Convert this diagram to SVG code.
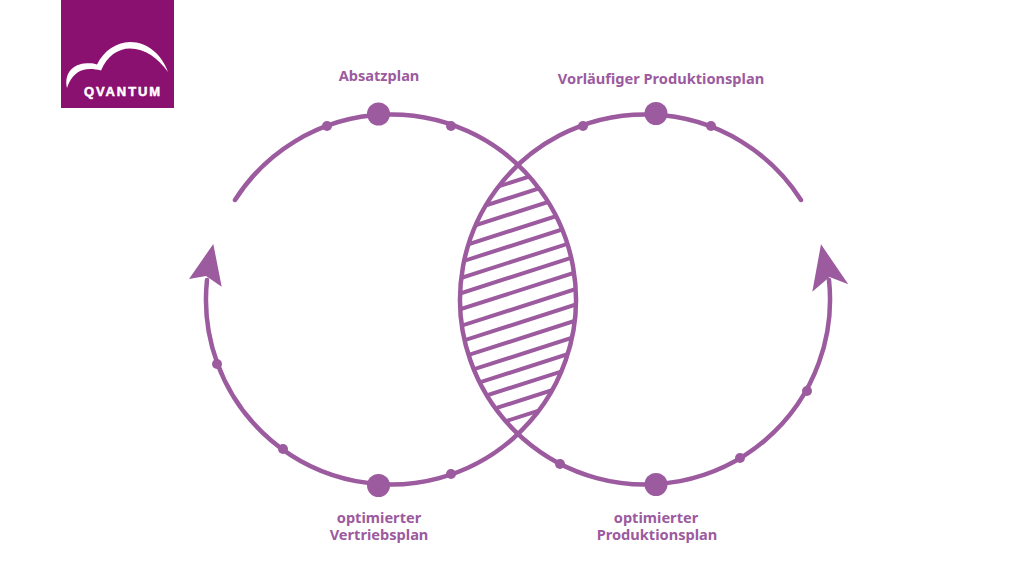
<svg xmlns="http://www.w3.org/2000/svg" width="1024" height="576" viewBox="0 0 1024 576">
<defs>
<clipPath id="lens"><path d="M518 165.300A185 185 0 0 1 518 434.700A185 185 0 0 1 518 165.300Z"/></clipPath>
</defs>
<style>
.arc{fill:none;stroke:#9c5a9f;stroke-width:4.500;stroke-linecap:round}
.hatch line{stroke:#9c5a9f;stroke-width:4}
.dot{fill:#9c5a9f}
.head{fill:#9c5a9f}
text{font-family:"Noto Sans","Open Sans","Liberation Sans",sans-serif;font-weight:700;font-size:14.600px;fill:#9c5a9f;text-anchor:middle}
</style>
<rect width="1024" height="576" fill="#fff"/>
<g id="logo">
<rect x="61" y="0" width="113" height="108" fill="#8a1170"/>
<path d="M67 88C64 74 72 65 84 63.500C90 62.800 94 63.300 97 64.500C104 50.500 116 42.500 130 42C148 42 162 55 168 72C158 58 145 48.500 130 48.500C118 48.500 107 56 101 70.500C95 69 88 68.500 83 70C75 72.500 70 79 67 88Z" fill="#fff"/>
<text x="123" y="96" style="font-family:'Liberation Sans',sans-serif;font-weight:700;font-size:13px;fill:#fff;stroke:#fff;stroke-width:.5px;letter-spacing:1.900px">QVANTUM</text>
</g>
<g id="connectors">
<path class="arc" d="M235 200A185 185 0 1 1 207 280"/>
<path class="arc" d="M801 200A185 185 0 1 0 829 280"/>
<polygon class="head" points="213.300,244 189,279 206,276 221.700,286.700"/>
<polygon class="head" points="821,244.300 848.300,284.300 829.500,277 812.300,291.700"/>
<g class="hatch" clip-path="url(#lens)">
<line x1="438" y1="205.800" x2="598" y2="154.600"/>
<line x1="438" y1="220.700" x2="598" y2="169.500"/>
<line x1="438" y1="237.200" x2="598" y2="186"/>
<line x1="438" y1="254" x2="598" y2="202.800"/>
<line x1="438" y1="269.200" x2="598" y2="218"/>
<line x1="438" y1="285.300" x2="598" y2="234.100"/>
<line x1="438" y1="300.500" x2="598" y2="249.300"/>
<line x1="438" y1="316.400" x2="598" y2="265.200"/>
<line x1="438" y1="333.200" x2="598" y2="282"/>
<line x1="438" y1="348.700" x2="598" y2="297.500"/>
<line x1="438" y1="364.700" x2="598" y2="313.500"/>
<line x1="438" y1="380.700" x2="598" y2="329.500"/>
<line x1="438" y1="395.700" x2="598" y2="344.500"/>
<line x1="438" y1="411" x2="598" y2="359.800"/>
<line x1="438" y1="426.700" x2="598" y2="375.500"/>
<line x1="438" y1="442.900" x2="598" y2="391.700"/>
</g>
</g>
<g id="node-absatzplan"><circle class="dot" cx="378.500" cy="114" r="11.500"/><text x="379" y="81">Absatzplan</text></g>
<g id="node-vorlaeufig"><circle class="dot" cx="656" cy="113.500" r="11.500"/><text x="661" y="84">Vorläufiger Produktionsplan</text></g>
<g id="node-vertrieb"><circle class="dot" cx="378.500" cy="485.500" r="11.500"/><text x="379" y="523">optimierter<tspan x="379" dy="17">Vertriebsplan</tspan></text></g>
<g id="node-produktion"><circle class="dot" cx="656" cy="484.500" r="11.500"/><text x="656" y="523">optimierter<tspan x="657" dy="17">Produktionsplan</tspan></text></g>
<g id="small-dots">
<circle class="dot" cx="327" cy="126" r="5"/><circle class="dot" cx="451" cy="126" r="5"/><circle class="dot" cx="217" cy="364" r="5"/><circle class="dot" cx="283" cy="449" r="5"/><circle class="dot" cx="451" cy="474" r="5"/>
<circle class="dot" cx="583" cy="126" r="5"/><circle class="dot" cx="711" cy="126" r="5"/><circle class="dot" cx="807" cy="391" r="5"/><circle class="dot" cx="740" cy="458" r="5"/><circle class="dot" cx="560" cy="464" r="5"/>
</g>
</svg>
